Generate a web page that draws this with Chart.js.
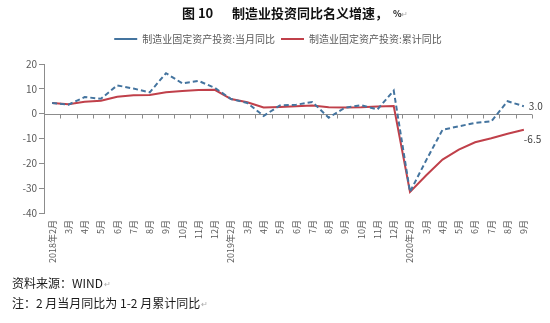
<!DOCTYPE html>
<html>
<head>
<meta charset="utf-8">
<script src="https://cdn.jsdelivr.net/npm/chart.js@4"></script>
<style>
  html, body { margin: 0; padding: 0; background: #fff; }
  #wrap { position: relative; width: 550px; height: 323px; }
</style>
</head>
<body>
<div id="wrap"><canvas id="c" width="550" height="323"></canvas></div>
<script>
// Months (Jan is merged into Feb each year)
const categories = [
  '2018年2月','3月','4月','5月','6月','7月','8月','9月','10月','11月','12月',
  '2019年2月','3月','4月','5月','6月','7月','8月','9月','10月','11月','12月',
  '2020年2月','3月','4月','5月','6月','7月','8月','9月'
];

// 制造业固定资产投资:当月同比 (%)
const monthlyYoY = [
  4.3, 3.6, 6.7, 6.0, 11.4, 10.1, 8.6, 16.3, 12.2, 13.2, 10.4,
  5.9, 4.3, -0.9, 3.3, 3.6, 4.7, -1.6, 2.4, 3.4, 1.7, 9.3,
  -31.5, -18.7, -6.5, -5.1, -3.7, -3.1, 5.0, 3.0
];

// 制造业固定资产投资:累计同比 (%)
const cumulativeYoY = [
  4.3, 3.8, 4.8, 5.2, 6.8, 7.4, 7.5, 8.6, 9.1, 9.5, 9.6,
  5.9, 4.6, 2.5, 2.7, 3.0, 3.3, 2.6, 2.5, 2.6, 2.9, 3.1,
  -31.5, -24.8, -18.5, -14.5, -11.5, -9.9, -8.1, -6.5
];

const yTicks = [20, 10, 0, -10, -20, -30, -40];

const seriesNames = ['制造业固定资产投资:当月同比', '制造业固定资产投资:累计同比'];
const titleParts = ['图 10', '制造业投资同比名义增速，', '%'];
const notes = ['资料来源：WIND', '注：2 月当月同比为 1-2 月累计同比'];

const CJK = '"Noto Sans CJK SC", "Noto Sans", sans-serif';
const BLUE = '#44749f';
const RED = '#c0404a';
const AXIS = '#8c8c8c';
const TEXT = '#595959';

// horizontal axis along the zero value, with ticks between months
const zeroAxis = {
  id: 'zeroAxis',
  beforeDatasetsDraw(chart) {
    const { ctx, chartArea, scales: { x, y } } = chart;
    const y0 = Math.round(y.getPixelForValue(0)) + 0.5;
    const step = x.getPixelForValue(1) - x.getPixelForValue(0);
    ctx.save();
    ctx.strokeStyle = AXIS;
    ctx.lineWidth = 1;
    ctx.beginPath();
    ctx.moveTo(chartArea.left, y0);
    ctx.lineTo(chartArea.right, y0);
    for (let i = 0; i < categories.length; i++) {
      const px = Math.round(x.getPixelForValue(i) + step / 2) + 0.5;
      ctx.moveTo(px, y0);
      ctx.lineTo(px, y0 + 4);
    }
    ctx.stroke();
    ctx.restore();
  }
};

// value labels at the latest month of each series
const endLabels = {
  id: 'endLabels',
  afterDatasetsDraw(chart) {
    const { ctx } = chart;
    ctx.save();
    ctx.font = '10px ' + CJK;
    ctx.fillStyle = '#404040';
    ctx.textAlign = 'left';
    ctx.textBaseline = 'middle';
    const shifts = [[5, 0], [0, 9]];
    chart.data.datasets.forEach((ds, i) => {
      const meta = chart.getDatasetMeta(i);
      const last = ds.data.length - 1;
      const pt = meta.data[last];
      ctx.fillText(ds.data[last].toFixed(1), pt.x + shifts[i][0], pt.y + shifts[i][1]);
    });
    ctx.restore();
  }
};

// heading and source notes
const headings = {
  id: 'headings',
  afterDraw(chart) {
    const { ctx } = chart;
    ctx.save();
    ctx.textBaseline = 'middle';
    ctx.textAlign = 'left';
    ctx.fillStyle = '#111';
    ctx.font = 'bold 13px ' + CJK;
    ctx.fillText(titleParts[0], 182, 13);
    ctx.fillText(titleParts[1], 232, 13);
    ctx.font = 'bold 9px ' + CJK;
    ctx.fillText(titleParts[2], 393, 14);
    ctx.fillStyle = '#aaa';
    ctx.font = '8px ' + CJK;
    ctx.fillText('↵', 401, 14);

    ctx.fillStyle = '#1a1a1a';
    ctx.font = '12px ' + CJK;
    ctx.fillText(notes[0], 12, 283);
    ctx.fillText(notes[1], 12, 303);
    const w0 = ctx.measureText(notes[0]).width;
    const w1 = ctx.measureText(notes[1]).width;
    ctx.fillStyle = '#aaa';
    ctx.font = '8px ' + CJK;
    ctx.fillText('↵', 13 + w0, 284);
    ctx.fillText('↵', 13 + w1, 304);
    ctx.restore();
  }
};

// extra room under the legend row, and a small sideways nudge of the row
const legendPlace = {
  id: 'legendPlace',
  beforeInit(chart) {
    const lg = chart.legend;
    if (!lg) return;
    const fit = lg.fit;
    lg.fit = function () { fit.call(this); this.height += 10; };
  },
  afterLayout(chart) {
    const lg = chart.legend;
    if (!lg) return;
    lg.left += 12;
    lg.right += 12;
  }
};

new Chart(document.getElementById('c'), {
  type: 'line',
  data: {
    labels: categories,
    datasets: [
      {
        label: seriesNames[0],
        data: monthlyYoY,
        borderColor: BLUE,
        backgroundColor: BLUE,
        borderWidth: 2,
        borderDash: [5, 3],
        pointRadius: 0,
        pointStyle: 'line',
        tension: 0,
        fill: false
      },
      {
        label: seriesNames[1],
        data: cumulativeYoY,
        borderColor: RED,
        backgroundColor: RED,
        borderWidth: 2,
        pointRadius: 0,
        pointStyle: 'line',
        tension: 0,
        fill: false
      }
    ]
  },
  options: {
    responsive: false,
    devicePixelRatio: 1,
    animation: false,
    layout: { padding: { left: 0, right: 18, top: 28, bottom: 0 } },
    plugins: {
      title: { display: false },
      tooltip: { enabled: false },
      legend: {
        display: true,
        position: 'top',
        align: 'center',
        labels: {
          usePointStyle: true,
          pointStyleWidth: 23,
          padding: 6,
          color: TEXT,
          font: { family: CJK, size: 10 }
        }
      }
    },
    scales: {
      x: {
        type: 'category',
        offset: true,
        grid: { display: false, drawTicks: false, tickLength: 0 },
        border: { display: false },
        ticks: {
          autoSkip: false,
          minRotation: 90,
          maxRotation: 90,
          padding: 7,
          color: TEXT,
          font: { family: CJK, size: 9 }
        },
        afterFit(scale) { scale.height = 110; }
      },
      y: {
        min: Math.min(...yTicks),
        max: Math.max(...yTicks),
        afterBuildTicks(scale) { scale.ticks = yTicks.map(v => ({ value: v })); },
        grid: { display: true, drawOnChartArea: false, drawTicks: true, tickLength: 5, color: AXIS },
        border: { display: true, color: AXIS, width: 1 },
        ticks: {
          padding: 2,
          color: TEXT,
          font: { family: CJK, size: 10 }
        },
        afterFit(scale) { scale.width = 44; }
      }
    }
  },
  plugins: [legendPlace, zeroAxis, endLabels, headings]
});
</script>
</body>
</html>
